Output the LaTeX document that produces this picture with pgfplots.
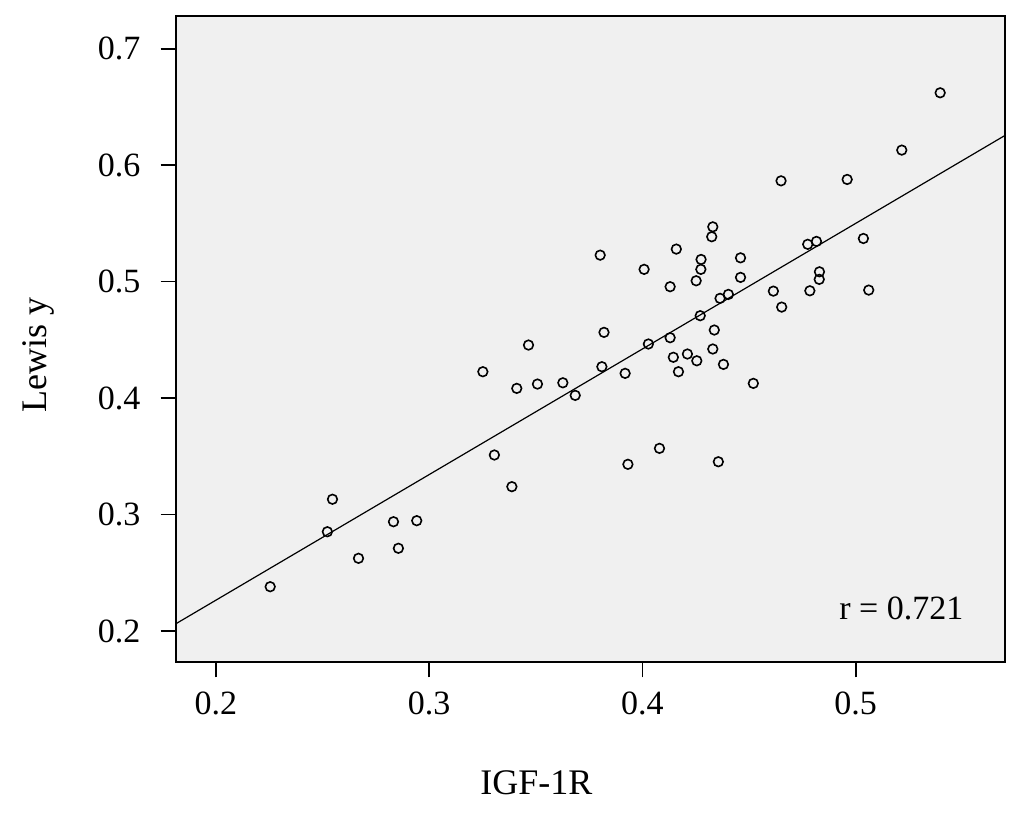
\documentclass[border=0pt]{standalone}
\usepackage{pgfplots}
\pgfplotsset{compat=1.18}
\usepackage{fontspec}
\setmainfont{Liberation Serif}
\definecolor{bgpanel}{RGB}{240,240,240}
\begin{document}
\begin{tikzpicture}
\begin{axis}[
  at={(0,0)}, anchor=south west,
  scale only axis,
  width=414.65pt, height=323.3pt,
  xmin=0.1812, xmax=0.5700,
  ymin=0.1731, ymax=0.7283,
  axis background/.style={fill=bgpanel},
  axis line style={line width=1pt},
  xtick={0.2,0.3,0.4,0.5},
  xticklabels={0.2,0.3,0.4,0.5},
  ytick={0.2,0.3,0.4,0.5,0.6,0.7},
  yticklabels={0.2,0.3,0.4,0.5,0.6,0.7},
  xtick pos=bottom, ytick pos=left,
  tick align=outside,
  major tick length=7.5pt,
  tick style={line width=0.9pt, black},
  xticklabel style={font=\fontsize{17}{20}\selectfont, inner sep=0pt, yshift=-7pt},
  yticklabel style={font=\fontsize{17}{20}\selectfont, inner sep=0pt, xshift=-10pt},
  clip mode=individual,
]
\addplot[only marks, mark=o, mark size=2.4pt, mark options={line width=0.8pt, black}] coordinates {
(0.2255,0.2380) (0.2523,0.2852) (0.2547,0.3131) (0.2669,0.2624) (0.2833,0.2938)
(0.2856,0.2710) (0.2942,0.2947) (0.3252,0.4226) (0.3306,0.3511) (0.3388,0.3239)
(0.3411,0.4083) (0.3466,0.4455) (0.3508,0.4120) (0.3627,0.4131) (0.3685,0.4023)
(0.3802,0.5227) (0.3810,0.4269) (0.3820,0.4564) (0.3919,0.4212) (0.3932,0.3431)
(0.4008,0.5105) (0.4028,0.4464) (0.4080,0.3568) (0.4130,0.4956) (0.4130,0.4518)
(0.4145,0.4350) (0.4159,0.5279) (0.4169,0.4226) (0.4211,0.4378) (0.4252,0.5007)
(0.4255,0.4320) (0.4271,0.4707) (0.4274,0.5105) (0.4275,0.5190) (0.4325,0.5385)
(0.4330,0.5470) (0.4330,0.4421) (0.4337,0.4584) (0.4356,0.3453) (0.4364,0.4856)
(0.4380,0.4289) (0.4403,0.4890) (0.4460,0.5204) (0.4460,0.5036) (0.4520,0.4126)
(0.4614,0.4918) (0.4650,0.5865) (0.4653,0.4781) (0.4775,0.5320) (0.4785,0.4921)
(0.4816,0.5345) (0.4829,0.5019) (0.4830,0.5084) (0.4960,0.5877) (0.5036,0.5370)
(0.5061,0.4927) (0.5216,0.6129) (0.5396,0.6621)
};
\addplot[black, line width=0.6pt] coordinates {(0.1812,0.2061) (0.5700,0.6255)};
\node[anchor=base east, inner sep=0pt, font=\fontsize{17}{20}\selectfont] at (axis cs:0.5507,0.2100) {r = 0.721};
\end{axis}
\node[anchor=base, inner sep=0pt, font=\fontsize{18}{21}\selectfont] at (180.4pt,-66.35pt) {IGF-1R};
\node[rotate=90, anchor=center, inner sep=0pt, font=\fontsize{18}{21}\selectfont] at (-68.85pt,153.65pt) {Lewis y};
\pgfresetboundingbox
\useasboundingbox (-87.85pt,-75.85pt) rectangle (424.15pt,331.15pt);
\end{tikzpicture}
\end{document}
